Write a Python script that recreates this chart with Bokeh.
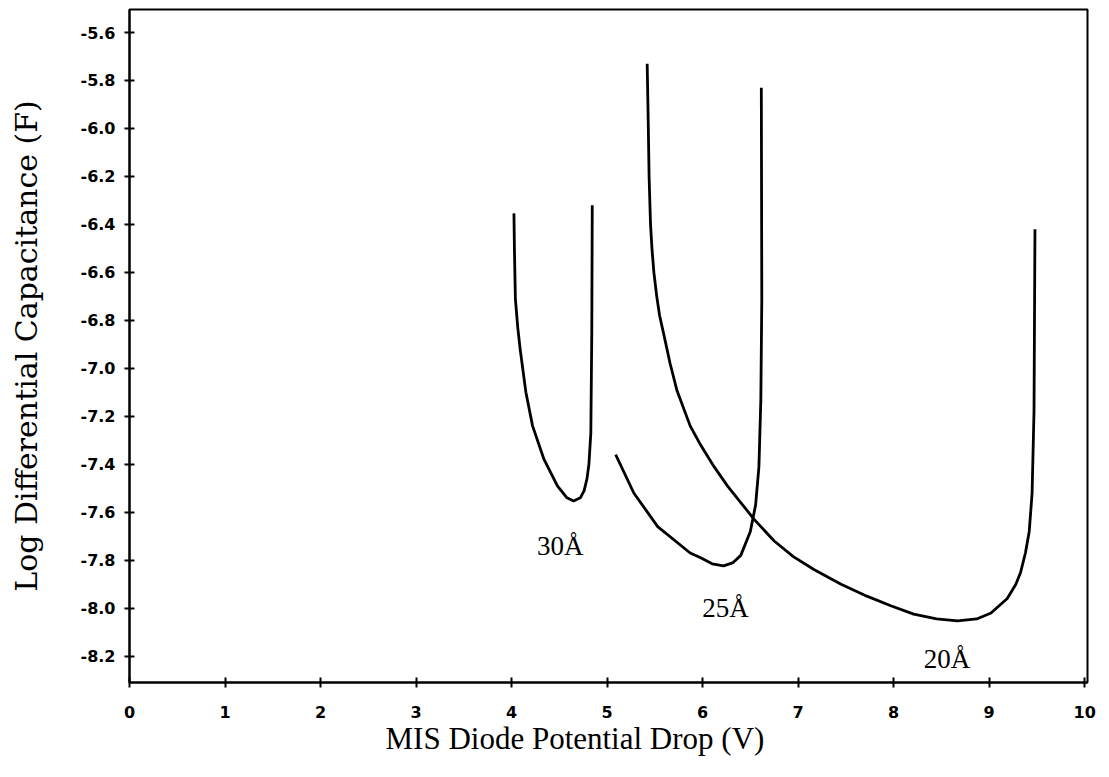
from bokeh.plotting import figure
from bokeh.models import Range1d, FixedTicker, PrintfTickFormatter, Label, Title
from bokeh.embed import file_html
from bokeh.resources import INLINE

# 30 Å curve
x_30 = [4.025, 4.03, 4.04, 4.065, 4.09, 4.15, 4.22, 4.34, 4.48, 4.58, 4.65, 4.72, 4.76, 4.79, 4.81, 4.83, 4.84, 4.845]
y_30 = [-6.354, -6.50, -6.71, -6.83, -6.92, -7.10, -7.24, -7.38, -7.49, -7.54, -7.553, -7.54, -7.51, -7.46, -7.40, -7.27, -6.85, -6.32]

# 25 Å curve
x_25 = [5.09, 5.28, 5.53, 5.87, 5.98, 6.10, 6.22, 6.32, 6.40, 6.50, 6.555, 6.59, 6.61, 6.62, 6.615]
y_25 = [-7.36, -7.52, -7.66, -7.77, -7.79, -7.815, -7.824, -7.81, -7.78, -7.68, -7.57, -7.41, -7.13, -6.71, -5.83]

# 20 Å curve
x_20 = [5.42, 5.43, 5.44, 5.455, 5.47, 5.49, 5.52, 5.55, 5.60, 5.66, 5.73, 5.87, 5.98, 6.12, 6.26, 6.40, 6.54, 6.75,
        6.95, 7.17, 7.45, 7.72, 7.97, 8.21, 8.45, 8.67, 8.87, 9.02, 9.19, 9.28, 9.33, 9.38, 9.42, 9.45, 9.47, 9.48]
y_20 = [-5.73, -5.95, -6.20, -6.40, -6.50, -6.60, -6.70, -6.78, -6.87, -6.98, -7.09, -7.24, -7.32, -7.41, -7.49, -7.56,
        -7.63, -7.72, -7.785, -7.84, -7.90, -7.95, -7.99, -8.025, -8.045, -8.053, -8.045, -8.02, -7.96, -7.90,
        -7.85, -7.77, -7.68, -7.52, -7.18, -6.42]

labels = ["30Å", "25Å", "20Å"]
label_x = [4.51, 6.24, 8.56]
label_y = [-7.74, -8.0, -8.21]

x_ticks = [0, 1, 2, 3, 4, 5, 6, 7, 8, 9, 10]
y_ticks = [-8.2, -8.0, -7.8, -7.6, -7.4, -7.2, -7.0, -6.8, -6.6, -6.4, -6.2, -6.0, -5.8, -5.6]

x_title = "MIS Diode Potential Drop (V)"
y_title = "Log Differential Capacitance (F)"

p = figure(width=1100, height=770, output_backend="svg", toolbar_location=None,
           x_range=Range1d(0, 10.03), y_range=Range1d(-8.31, -5.504),
           min_border_left=129, min_border_right=13, min_border_top=9, min_border_bottom=88)

p.background_fill_color = "white"
p.border_fill_color = "white"
p.outline_line_color = "black"
p.outline_line_width = 2
p.xgrid.visible = False
p.ygrid.visible = False

for xs, ys in [(x_30, y_30), (x_25, y_25), (x_20, y_20)]:
    p.line(xs, ys, line_color="black", line_width=2.8, line_join="round")

for t, lx, ly in zip(labels, label_x, label_y):
    p.add_layout(Label(x=lx, y=ly, text=t, text_font="Liberation Serif", text_font_size="27px",
                       text_align="center", text_baseline="middle", text_color="black"))

p.xaxis.ticker = FixedTicker(ticks=x_ticks)
p.yaxis.ticker = FixedTicker(ticks=y_ticks)
p.yaxis.formatter = PrintfTickFormatter(format="%.1f")

for ax in [p.xaxis[0], p.yaxis[0]]:
    ax.axis_line_color = "black"
    ax.axis_line_width = 2
    ax.major_tick_line_color = "black"
    ax.major_tick_line_width = 2
    ax.major_tick_in = 5
    ax.major_tick_out = 5
    ax.minor_tick_line_color = None
    ax.major_label_text_font = "DejaVu Sans"
    ax.major_label_text_font_style = "bold"
    ax.major_label_text_font_size = "16px"
    ax.major_label_text_color = "black"
    ax.axis_label_text_font_style = "normal"
    ax.axis_label_text_color = "black"

p.yaxis.axis_label = y_title
p.yaxis.axis_label_text_font = "DejaVu Serif"
p.yaxis.axis_label_text_font_size = "30px"
p.xaxis.major_label_standoff = 18
p.yaxis.major_label_standoff = 9
p.yaxis.axis_label_standoff = 34

xt = Title(text=x_title, align="left", offset=256, text_font="Liberation Serif",
           text_font_size="31px", text_font_style="normal", text_color="black",
           standoff=0, vertical_align="top")
p.add_layout(xt, "below")

open("out.html", "w").write(file_html(p, INLINE))
